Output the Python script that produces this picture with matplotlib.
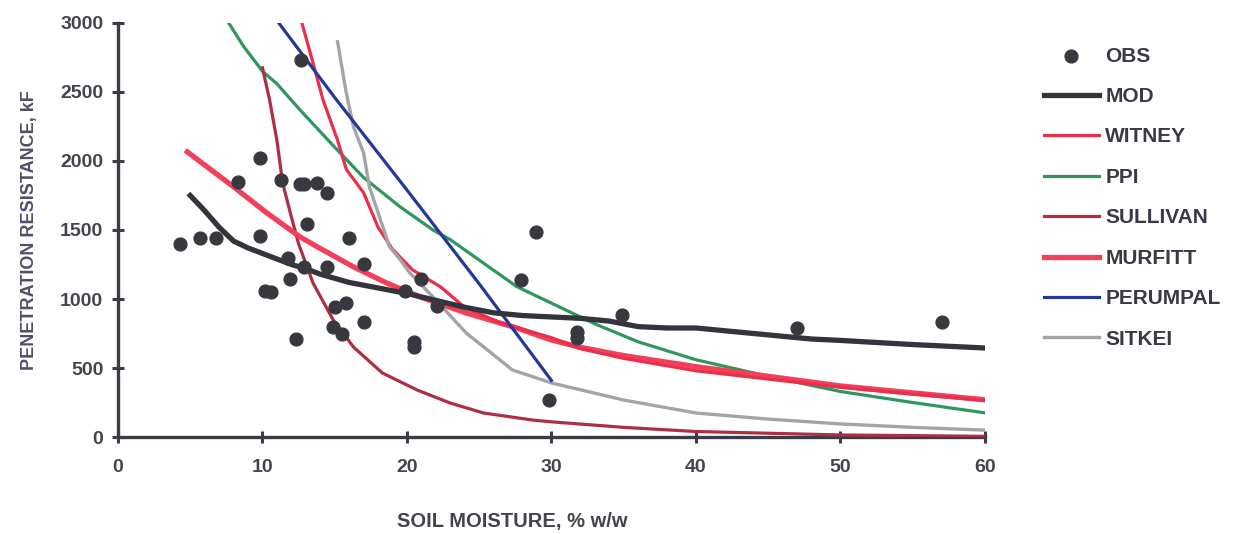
import matplotlib
matplotlib.use("Agg")
import matplotlib.pyplot as plt

plt.rcParams['font.family'] = ['Liberation Sans', 'DejaVu Sans']
plt.rcParams['font.weight'] = 'bold'

# observed penetration resistance
obs_x = [4.3, 5.7, 6.8, 8.3, 9.8, 9.8, 10.2, 10.6, 11.3, 11.8, 11.9, 12.3, 12.7, 12.6, 12.9,
         12.9, 13.1, 13.8, 14.5, 14.5, 14.9, 15.0, 15.5, 15.8, 16.0, 17.0, 17.0, 19.9, 20.5,
         20.5, 21.0, 22.1, 27.9, 28.9, 29.8, 31.8, 31.8, 34.9, 47.0, 57.0]
obs_y = [1400, 1445, 1445, 1850, 2020, 1460, 1060, 1050, 1860, 1300, 1145, 710, 2735, 1830, 1830,
         1235, 1540, 1840, 1770, 1235, 800, 945, 750, 970, 1445, 1250, 830, 1060, 690,
         650, 1145, 950, 1140, 1485, 265, 760, 720, 885, 790, 835]

# model curves
mod_x = [5, 6, 7, 8, 9, 10, 11, 12, 13, 14, 15, 16, 17, 18, 20, 22, 24, 26, 28, 30,
         32, 34, 36, 38, 40, 42, 45, 48, 50, 55, 60]
mod_y = [1750, 1640, 1520, 1420, 1370, 1330, 1290, 1250, 1220, 1180, 1150, 1120, 1100, 1080,
         1040, 990, 940, 900, 880, 870, 860, 840, 800, 790, 790, 770, 740, 710, 700, 670, 645]

witney_x = [12.6, 13.5, 14.2, 15.2, 15.8, 17.0, 18.0, 19.0, 20.4, 22.3, 24.0, 26.4, 30, 32,
            35, 40, 45, 50, 55, 60]
witney_y = [3050, 2710, 2440, 2150, 1940, 1770, 1520, 1360, 1210, 1090, 940, 830, 720, 640,
            570, 480, 420, 360, 310, 265]

ppi_x = [7.3, 8.7, 10, 11, 12.6, 15, 17, 19.5, 21.8, 23, 25.3, 27.6, 30, 33, 36, 40, 45,
         50, 55, 60]
ppi_y = [3060, 2830, 2650, 2560, 2370, 2100, 1880, 1670, 1500, 1430, 1260, 1090, 970, 820,
         690, 560, 440, 330, 250, 175]

sullivan_x = [10.0, 10.5, 11.0, 11.4, 12.0, 12.5, 13.5, 14.9, 16.3, 18.3, 20.7, 23.0, 25.3,
              28.7, 30, 35, 40, 50, 60]
sullivan_y = [2675, 2440, 2150, 1840, 1595, 1400, 1116, 848, 652, 464, 341, 246, 174,
              123, 110, 70, 40, 15, 5]

murfitt_x = [4.8, 8.0, 10.3, 12.6, 13.8, 16.3, 18.6, 20.9, 24.1, 27.6, 30, 32, 35, 40, 45,
             50, 55, 60]
murfitt_y = [2066, 1813, 1624, 1450, 1378, 1233, 1116, 1015, 899, 790, 703, 650, 590, 510,
             440, 370, 320, 270]

perumpal_x = [10.7, 15, 20, 25, 30]
perumpal_y = [3060, 2460, 1790, 1110, 410]

sitkei_x = [15.2, 15.8, 16.3, 17.0, 17.4, 18.1, 18.8, 19.5, 20.2, 21.8, 24.1, 27.3, 30, 35,
            40, 45, 50, 55, 60]
sitkei_y = [2864, 2494, 2248, 2059, 1813, 1595, 1378, 1290, 1189, 1015, 754, 486, 392, 268,
            174, 130, 95, 70, 50]

fig = plt.figure(figsize=(12.35, 5.34), dpi=100)
ax = fig.add_axes([0.0955, 0.1816, 0.702, 0.7754])

ax.plot(ppi_x, ppi_y, color='#2f9660', lw=2.3, label='PPI', zorder=3)
ax.plot(sullivan_x, sullivan_y, color='#ad2f45', lw=2.3, label='SULLIVAN', zorder=3)
ax.plot(murfitt_x, murfitt_y, color='#f2405a', lw=3.8, label='MURFITT', zorder=3)
ax.plot(witney_x, witney_y, color='#ea2f4c', lw=2.3, label='WITNEY', zorder=3)
ax.plot(sitkei_x, sitkei_y, color='#a4a4a8', lw=2.4, label='SITKEI', zorder=3)
ax.plot(perumpal_x, perumpal_y, color='#25389a', lw=2.3, label='PERUMPAL', zorder=3)
ax.plot(mod_x, mod_y, color='#34343c', lw=3.8, label='MOD', zorder=4)
ax.scatter(obs_x, obs_y, s=85, color='#38383e', label='OBS', zorder=5)

ax.set_xlim(0, 60)
ax.set_ylim(0, 3000)
ax.set_xticks(range(0, 61, 10))
ax.set_yticks(range(0, 3001, 500))

for side in ['top', 'right']:
    ax.spines[side].set_visible(False)
for side in ['left', 'bottom']:
    ax.spines[side].set_linewidth(2.4)
    ax.spines[side].set_color('#3c3c46')

ax.tick_params(direction='inout', length=9, width=2.2, color='#3c3c46',
               labelsize=14, labelcolor='#44444c')
ax.tick_params(axis='x', pad=11)
ax.tick_params(axis='y', pad=6)

ax.set_ylabel('PENETRATION RESISTANCE, kF', fontsize=13, fontweight='bold',
              color='#505064', labelpad=16)
fig.text(0.415, 0.006, 'SOIL MOISTURE, % w/w', fontsize=14.5, fontweight='bold',
         color='#44444c', ha='center', va='bottom')

handles, labels = ax.get_legend_handles_labels()
order = ['OBS', 'MOD', 'WITNEY', 'PPI', 'SULLIVAN', 'MURFITT', 'PERUMPAL', 'SITKEI']
hmap = dict(zip(labels, handles))
leg = fig.legend([hmap[k] for k in order], order, loc='upper left',
                 bbox_to_anchor=(0.830, 0.948), frameon=False, fontsize=15,
                 handlelength=2.65, handletextpad=0.3, labelspacing=1.03,
                 labelcolor='#3a3a44')

fig.savefig('out.png', dpi=100)
